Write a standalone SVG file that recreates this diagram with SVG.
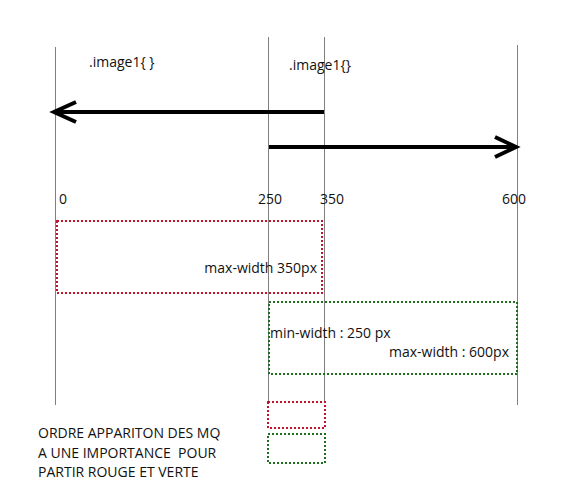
<svg xmlns="http://www.w3.org/2000/svg" width="570" height="491" viewBox="0 0 570 491">
<style>
.t{font-family:"Open Sans","Liberation Sans",sans-serif;font-size:14px;fill:#111}
.v{stroke:#808080;stroke-width:1;fill:none}
.a{stroke:#000;stroke-width:4;fill:none}
.r{stroke:#c0142a;stroke-width:2;stroke-dasharray:2 2;fill:none}
.g{stroke:#1f6e1f;stroke-width:2;stroke-dasharray:2 2;fill:none}
</style>
<rect width="570" height="491" fill="#fff"/>
<g id="guides">
<line class="v" x1="55.5" y1="47" x2="55.5" y2="405"/>
<line class="v" x1="268.5" y1="37" x2="268.5" y2="402"/>
<line class="v" x1="324.5" y1="37" x2="324.5" y2="402"/>
<line class="v" x1="517.5" y1="45" x2="517.5" y2="405"/>
</g>
<g id="connectors">
<path class="a" d="M324 112 H55"/>
<path class="a" d="M76 102 L54 112 L76 122"/>
<path class="a" d="M269 147 H515"/>
<path class="a" d="M495 137 L516 147 L495 157"/>
</g>
<g id="labels">
<text class="t" x="89" y="67">.image1{ }</text>
<text class="t" x="289" y="70">.image1{}</text>
<text class="t" x="59" y="204">0</text>
<text class="t" x="258" y="204">250</text>
<text class="t" x="320" y="204">350</text>
<text class="t" x="502" y="204">600</text>
</g>
<g id="maxw350">
<rect class="r" x="57" y="221" width="265" height="72"/>
<text class="t" x="317" y="273" text-anchor="end">max-width 350px</text>
</g>
<g id="minmax">
<rect class="g" x="269" y="302" width="248" height="72"/>
<text class="t" x="270" y="338">min-width : 250 px</text>
<text class="t" x="509" y="357" text-anchor="end">max-width : 600px</text>
</g>
<g id="redsmall"><rect class="r" x="268" y="402" width="57" height="26"/></g>
<g id="greensmall"><rect class="g" x="268" y="434" width="57" height="29"/></g>
<g id="note">
<text class="t" x="38" y="438">ORDRE APPARITON DES MQ</text>
<text class="t" x="38" y="458" xml:space="preserve">A UNE IMPORTANCE  POUR</text>
<text class="t" x="38" y="477">PARTIR ROUGE ET VERTE</text>
</g>
</svg>
